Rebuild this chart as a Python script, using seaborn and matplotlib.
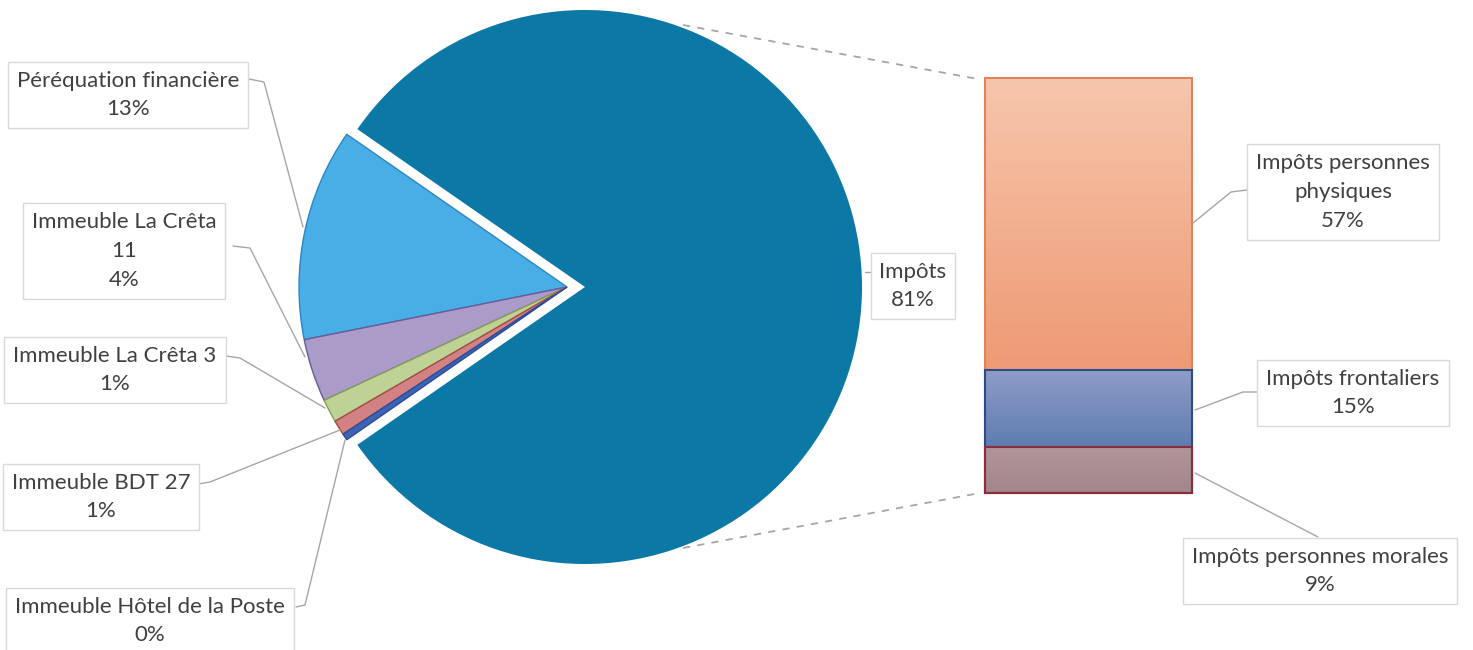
import numpy as np
import matplotlib
matplotlib.use("Agg")
import matplotlib.pyplot as plt
import matplotlib.colors as mcolors
import seaborn as sns

# ---------------- data ----------------
pie_labels = ["Impôts", "Péréquation financière", "Immeuble La Crêta\n11",
              "Immeuble La Crêta 3", "Immeuble BDT 27", "Immeuble Hôtel de la Poste"]
pie_values = [80.7, 12.8, 3.8, 1.4, 0.9, 0.4]
bar_labels = ["Impôts personnes\nphysiques", "Impôts frontaliers", "Impôts personnes morales"]
bar_values = [57, 15, 9]

# ---------------- style ----------------
sns.set_theme(style="white")
plt.rcParams["font.family"] = ["Lato", "DejaVu Sans"]

W, H = 1473, 650
fig = plt.figure(figsize=(W / 100, H / 100), dpi=100)
ax = fig.add_axes([0, 0, 1, 1])

pie_colors = ["#0C78A5", "#4AAEE6", "#AA9BC8", "#BED296", "#D28282", "#3D64B4"]
pie_edges = ["#0C78A5", "#2C86C4", "#6A5A9A", "#86A055", "#A84848", "#2A4C9C"]
bar_colors = ["#F1AA88", "#7D8CBA", "#A8898D"]
bar_grad = [("#F6C6AC", "#EE9A74"), ("#8E9CC8", "#5F7DB0"), ("#B0959A", "#A2868A")]
bar_edges = ["#E0825A", "#2A4C8C", "#8B2D3D"]
text_color = "#404040"
line_color = "#A6A6A6"
box_edge = "#D9D9D9"


def P(x, y):
    """pixel (y down) -> data coords (y up)"""
    return x, H - y


# ---------------- pie ----------------
total = sum(pie_values)
start = -pie_values[0] / total * 180.0
R = 268
cx, cy = P(567, 287)
explode = [18] + [0] * (len(pie_values) - 1)
wedges, _ = ax.pie(pie_values, colors=pie_colors, startangle=start, counterclock=True,
                   radius=R, center=(cx, cy), explode=explode,
                   wedgeprops=dict(linewidth=1.0))
for w, ec in zip(wedges, pie_edges):
    w.set_edgecolor(ec)
wedges[0].set_radius(277)
wedges[0].set_linewidth(0)

ax.set_xlim(0, W)
ax.set_ylim(0, H)
ax.set_aspect("auto")
ax.axis("off")

# ---------------- bar of pie ----------------
bx0, by0, bw, bh = 985, 78, 207, 415
axb = fig.add_axes([bx0 / W, (H - by0 - bh) / H, bw / W, bh / H])
cum = np.cumsum(bar_values[::-1])[::-1]
for val, col, ec in zip(cum, bar_colors, bar_edges):
    sns.barplot(x=[0], y=[val], color=col, width=1, saturation=1,
                edgecolor=ec, linewidth=1.5, ax=axb)
axb.set_xlim(-0.5, 0.5)
axb.set_ylim(0, sum(bar_values))
axb.axis("off")
bottoms = cum - np.array(bar_values)
for p, top, bot, (c_top, c_bot) in zip(axb.patches, cum, bottoms, bar_grad):
    p.set_clip_on(False)
    p.set_facecolor("none")
    p.set_zorder(3)
    cmap = mcolors.LinearSegmentedColormap.from_list("g", [c_bot, c_top])
    grad = np.linspace(1, 0, 64).reshape(-1, 1)
    axb.imshow(grad, cmap=cmap, extent=[-0.5, 0.5, bot, top], aspect="auto",
               zorder=2, vmin=0, vmax=1)
axb.set_xlim(-0.5, 0.5)
axb.set_ylim(0, sum(bar_values))

# ---------------- connector dashed lines ----------------
for (x1, y1), (x2, y2) in [((683, 25), (978, 79)), ((683, 548), (980, 493))]:
    ax.plot(*zip(P(x1, y1), P(x2, y2)), color="#A6A6A6", lw=1.3, ls=(0, (4, 4)))

# ---------------- labels ----------------
def pct(v, tot):
    return f"{v / tot * 100:.0f}%"

pie_text_pos = [(913, 286), (128, 95), (124, 251), (115, 370), (101, 497), (150, 621)]
pie_leaders = [
    [(865, 272), (878, 272)],
    [(249, 79), (264, 82), (303, 227)],
    [(233, 246), (250, 248), (305, 357)],
    [(226, 356), (240, 358), (325, 408)],
    [(198, 484), (210, 482), (340, 430)],
    [(296, 607), (305, 605), (345, 440)],
]
bar_text_pos = [(1343, 192), (1353, 393), (1320, 571)]
bar_leaders = [
    [(1193, 223), (1231, 192), (1247, 190)],
    [(1195, 410), (1243, 392), (1257, 392)],
    [(1195, 473), (1318, 537)],
]

box = dict(boxstyle="square,pad=0.4", fc="white", ec=box_edge, lw=1.0)


def draw_label(text, pos, leader):
    pts = [P(*q) for q in leader]
    ax.plot([q[0] for q in pts], [q[1] for q in pts], color=line_color, lw=1.0, zorder=3)
    ax.text(*P(*pos), text, ha="center", va="center", multialignment="center",
            fontsize=16, color=text_color, linespacing=1.55, bbox=box, zorder=5)


for lab, v, pos, ld in zip(pie_labels, pie_values, pie_text_pos, pie_leaders):
    draw_label(f"{lab}\n{pct(v, total)}", pos, ld)

for lab, v, pos, ld in zip(bar_labels, bar_values, bar_text_pos, bar_leaders):
    draw_label(f"{lab}\n{pct(v, total)}", pos, ld)

fig.savefig("out.png", dpi=100)
